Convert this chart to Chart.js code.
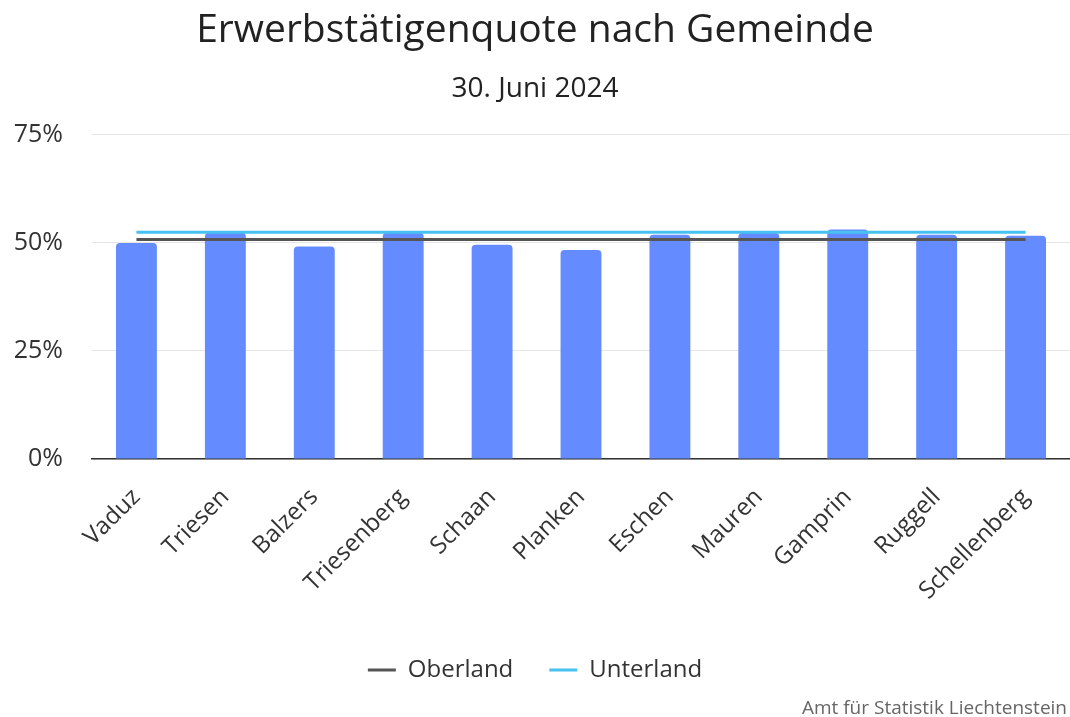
<!DOCTYPE html>
<html><head><meta charset="utf-8">
<script src="https://cdn.jsdelivr.net/npm/chart.js@4.4.1/dist/chart.umd.min.js"></script>
<style>html,body{margin:0;padding:0;background:#fff;}#wrap{width:1070px;height:717px;position:relative;}</style>
</head><body><div id="wrap"><canvas id="c" width="1070" height="717"></canvas></div>
<script>
const categories = ["Vaduz","Triesen","Balzers","Triesenberg","Schaan","Planken","Eschen","Mauren","Gamprin","Ruggell","Schellenberg"];
const erwerbsquote = [49.9, 52.3, 49.1, 52.3, 49.5, 48.3, 51.8, 52.2, 53.0, 51.8, 51.6];
const oberland = [50.7, 50.7, 50.7, 50.7, 50.7, 50.7, 50.7, 50.7, 50.7, 50.7, 50.7];
const unterland = [52.4, 52.4, 52.4, 52.4, 52.4, 52.4, 52.4, 52.4, 52.4, 52.4, 52.4];
const yTicks = [0, 25, 50, 75];
const titleText = "Erwerbstätigenquote nach Gemeinde";
const subtitleText = "30. Juni 2024";
const sourceText = "Amt für Statistik Liechtenstein";

const FONT = "'Open Sans', 'Noto Sans', sans-serif";
Chart.defaults.font.family = FONT;
Chart.defaults.color = '#333';

const sourcePlugin = {
  id: 'source',
  afterDraw(chart) {
    const ctx = chart.ctx;
    ctx.save();
    ctx.font = "19px " + FONT;
    ctx.fillStyle = '#666';
    ctx.textAlign = 'right';
    ctx.textBaseline = 'alphabetic';
    ctx.fillText(sourceText, 1067, 714);
    ctx.restore();
  }
};

new Chart(document.getElementById('c'), {
  type: 'bar',
  data: {
    labels: categories,
    datasets: [
      { type: 'bar', label: 'Erwerbstätigenquote', data: erwerbsquote, backgroundColor: '#648BFF',
        borderRadius: {topLeft: 4, topRight: 4}, borderSkipped: 'bottom',
        barPercentage: 0.92, categoryPercentage: 0.5, order: 3 },
      { type: 'line', label: 'Oberland', data: oberland, borderColor: '#555555', backgroundColor: '#555555',
        borderWidth: 3, pointRadius: 0, fill: false, order: 2 },
      { type: 'line', label: 'Unterland', data: unterland, borderColor: '#47C1F0', backgroundColor: '#47C1F0',
        borderWidth: 3, pointRadius: 0, fill: false, order: 1 }
    ]
  },
  options: {
    responsive: false,
    animation: false,
    layout: { padding: { left: 0, right: 0, top: 0, bottom: 25 } },
    plugins: {
      title: { display: true, text: titleText, font: { size: 39, weight: '500' }, color: '#222', padding: { top: 7, bottom: 18 } },
      subtitle: { display: true, text: subtitleText, font: { size: 28, weight: '400' }, color: '#222', padding: { bottom: 29 } },
      legend: {
        position: 'bottom',
        labels: {
          usePointStyle: true, pointStyle: 'line', pointStyleWidth: 28,
          font: { size: 24 }, color: '#333', padding: 36,
          sort: (a, b) => a.datasetIndex - b.datasetIndex,
          filter: (item) => item.datasetIndex > 0
        }
      },
      tooltip: { enabled: false }
    },
    scales: {
      x: {
        grid: { display: false, drawTicks: false },
        border: { display: true, color: '#333', width: 1.5 },
        ticks: { font: { size: 24 }, color: '#333', maxRotation: 45, minRotation: 45, padding: 24 },
        afterFit: (axis) => { axis.height = 163; }
      },
      y: {
        min: 0, max: 75,
        afterBuildTicks: (axis) => { axis.ticks = yTicks.map(v => ({ value: v })); },
        grid: { color: '#e6e6e6', drawTicks: false },
        border: { display: false },
        ticks: { font: { size: 25 }, color: '#333', padding: 29, callback: (v) => v + '%' },
        afterFit: (axis) => { axis.width = 92; }
      }
    }
  },
  plugins: [sourcePlugin]
});
</script>
</body></html>
